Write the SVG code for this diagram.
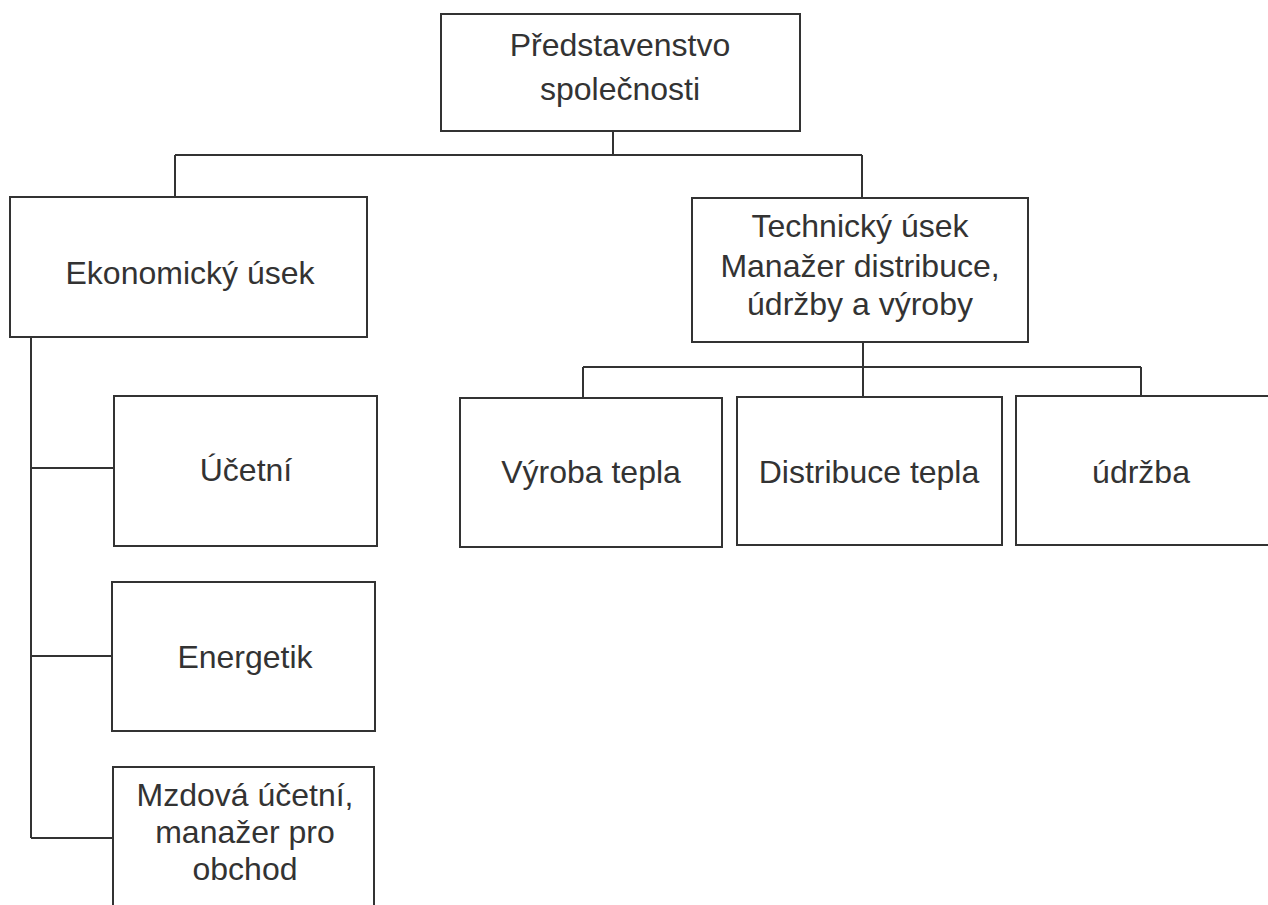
<svg xmlns="http://www.w3.org/2000/svg" width="1268" height="905" viewBox="0 0 1268 905">
<style>
.box{fill:#fff;stroke:#333;stroke-width:2}
.ln{fill:none;stroke:#333;stroke-width:2}
.t{font-family:"Liberation Sans",Arial,sans-serif;font-size:32px;fill:#333;text-anchor:middle}
</style>
<rect width="1268" height="905" fill="#fff"/>
<g id="connectors" class="ln">
<path d="M613,131V155M175,155H862M175,155V197M862,155V198"/>
<path d="M863,342V397M583,367H1141M583,367V398M1141,367V397"/>
<path d="M31,337V838M31,468H114M31,656H112M31,838H113"/>
</g>
<g id="n-predstavenstvo">
<rect class="box" x="441" y="14" width="359" height="117"/>
<text class="t" x="620" y="56">Představenstvo</text>
<text class="t" x="620" y="100">společnosti</text>
</g>
<g id="n-ekonomicky">
<rect class="box" x="10" y="197" width="357" height="140"/>
<text class="t" x="190" y="284">Ekonomický úsek</text>
</g>
<g id="n-technicky">
<rect class="box" x="692" y="198" width="336" height="144"/>
<text class="t" x="860" y="237">Technický úsek</text>
<text class="t" x="860" y="277">Manažer distribuce,</text>
<text class="t" x="860" y="315">údržby a výroby</text>
</g>
<g id="n-vyroba">
<rect class="box" x="460" y="398" width="262" height="149"/>
<text class="t" x="591" y="483">Výroba tepla</text>
</g>
<g id="n-distribuce">
<rect class="box" x="737" y="397" width="265" height="148"/>
<text class="t" x="869" y="483">Distribuce tepla</text>
</g>
<g id="n-udrzba">
<rect class="box" x="1016" y="396" width="280" height="149"/>
<text class="t" x="1141" y="483">údržba</text>
</g>
<g id="n-ucetni">
<rect class="box" x="114" y="396" width="263" height="150"/>
<text class="t" x="246" y="481">Účetní</text>
</g>
<g id="n-energetik">
<rect class="box" x="112" y="582" width="263" height="149"/>
<text class="t" x="245" y="668">Energetik</text>
</g>
<g id="n-mzdova">
<path class="box" d="M113,910V767H374V910"/>
<text class="t" x="245" y="806">Mzdová účetní,</text>
<text class="t" x="245" y="843">manažer pro</text>
<text class="t" x="245" y="880">obchod</text>
</g>
</svg>
